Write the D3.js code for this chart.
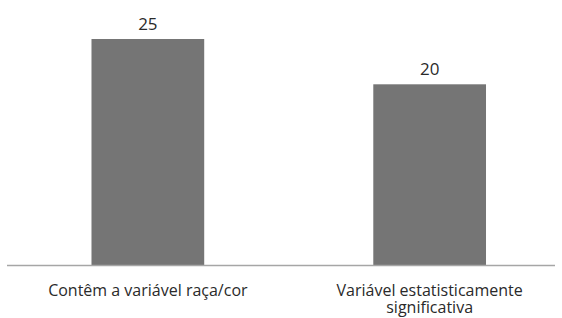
<!DOCTYPE html>
<html>
<head>
<meta charset="utf-8">
<script src="https://cdn.jsdelivr.net/npm/d3@7"></script>
<style>
  body { margin: 0; background: #fff; }
  text { font-family: "Open Sans", sans-serif; fill: #2a2a2a; }
</style>
</head>
<body>
<div class="chart"></div>
<script>
const FRAME_WIDTH = 562;
const FRAME_HEIGHT = 318;

// data
const CATEGORIES = ["Contêm a variável raça/cor", "Variável estatisticamente significativa"];
const LABEL_LINES = [["Contêm a variável raça/cor"], ["Variável estatisticamente", "significativa"]];
const VALUES = [25, 20];

const BASELINE = 265.5;
const TOP = 39;

const FRAME = d3.select(".chart")
  .append("svg")
  .attr("width", FRAME_WIDTH)
  .attr("height", FRAME_HEIGHT);

const X_SCALE = d3.scaleBand()
  .domain(CATEGORIES)
  .range([14, 563.5])
  .paddingInner(0.6)
  .paddingOuter(0.275);

const Y_SCALE = d3.scaleLinear()
  .domain([0, 25])
  .range([BASELINE, TOP]);

const data = CATEGORIES.map((c, i) => ({cat: c, value: VALUES[i], lines: LABEL_LINES[i]}));

FRAME.selectAll("rect.bar")
  .data(data)
  .enter()
  .append("rect")
    .attr("class", "bar")
    .attr("x", d => X_SCALE(d.cat))
    .attr("y", d => Y_SCALE(d.value))
    .attr("width", X_SCALE.bandwidth())
    .attr("height", d => BASELINE - Y_SCALE(d.value))
    .attr("fill", "#757575");

// baseline
FRAME.append("line")
  .attr("x1", 7).attr("x2", 555)
  .attr("y1", BASELINE).attr("y2", BASELINE)
  .attr("stroke", "#a6a6a6")
  .attr("stroke-width", 1.5);

// value labels
FRAME.selectAll("text.value")
  .data(data)
  .enter()
  .append("text")
    .attr("class", "value")
    .attr("x", d => X_SCALE(d.cat) + X_SCALE.bandwidth() / 2)
    .attr("y", d => Y_SCALE(d.value) - 9)
    .attr("text-anchor", "middle")
    .attr("font-size", "17px")
    .text(d => d.value);

// category labels, one text per line
const lineData = [];
data.forEach(d => d.lines.forEach((l, i) => lineData.push({
  line: l, i: i, cx: X_SCALE(d.cat) + X_SCALE.bandwidth() / 2
})));

FRAME.selectAll("text.cat")
  .data(lineData)
  .enter()
  .append("text")
    .attr("class", "cat")
    .attr("text-anchor", "middle")
    .attr("font-size", "16px")
    .attr("x", d => d.cx)
    .attr("y", d => 296 + d.i * 17)
    .text(d => d.line);
</script>
</body>
</html>
